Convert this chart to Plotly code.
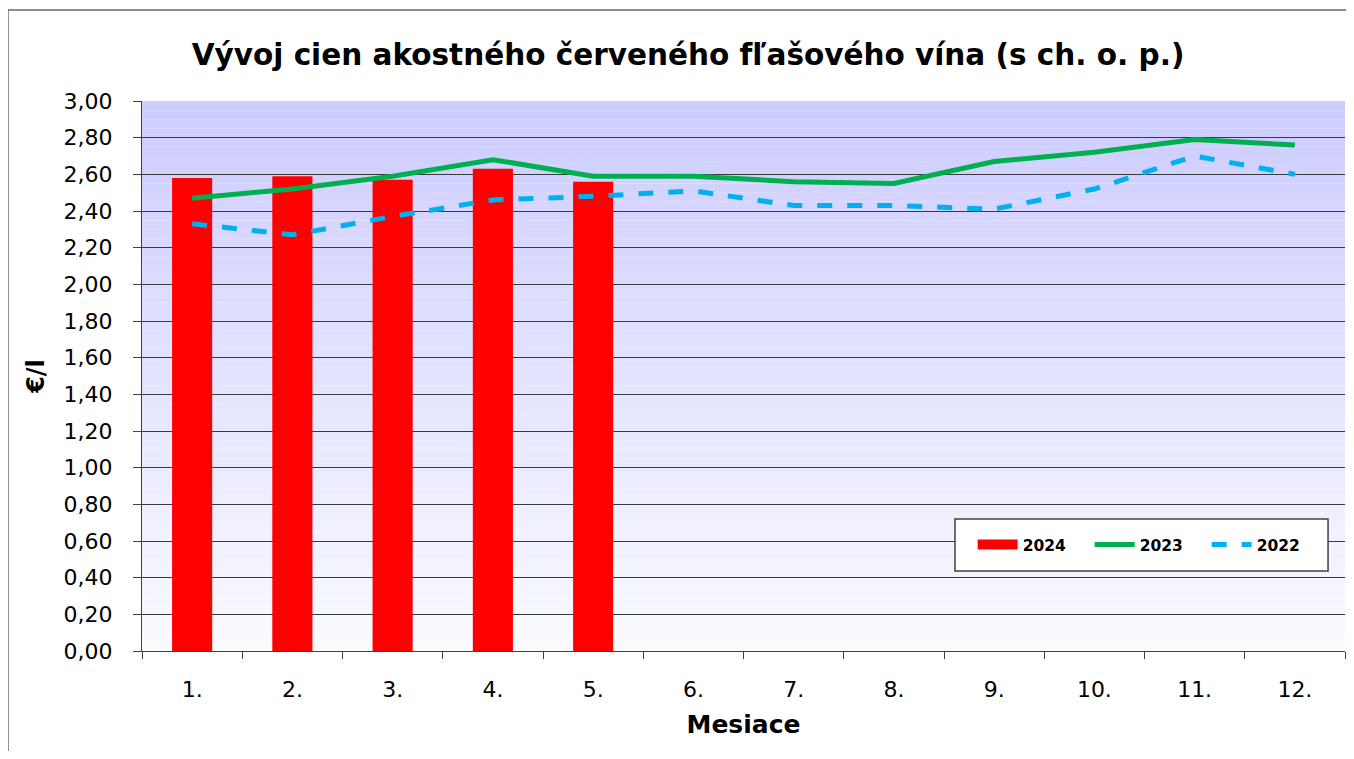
import plotly.graph_objects as go

months = ["1.", "2.", "3.", "4.", "5.", "6.", "7.", "8.", "9.", "10.", "11.", "12."]
v2024 = [2.58, 2.59, 2.57, 2.63, 2.56]
v2023 = [2.47, 2.52, 2.59, 2.68, 2.59, 2.59, 2.56, 2.55, 2.67, 2.72, 2.79, 2.76]
v2022 = [2.33, 2.27, 2.37, 2.46, 2.48, 2.51, 2.43, 2.43, 2.41, 2.52, 2.70, 2.60]
yticks = [round(i * 0.2, 2) for i in range(16)]

FONT = "DejaVu Sans"

fig = go.Figure()
fig.add_trace(go.Bar(x=months[:len(v2024)], y=v2024, name="2024", showlegend=False,
                     marker=dict(color="#FF0000", line=dict(width=0))))
# legend proxy for the bar series (wide red block like the original)
fig.add_trace(go.Scatter(x=[None], y=[None], name="2024", mode="lines",
                         line=dict(color="#FF0000", width=14)))
fig.add_trace(go.Scatter(x=months, y=v2023, name="2023", mode="lines",
                         line=dict(color="#00B050", width=5)))
fig.add_trace(go.Scatter(x=months, y=v2022, name="2022", mode="lines",
                         line=dict(color="#00B0F0", width=5, dash="dash")))

# gradient background of plot area
N = 60
top = (204, 204, 255)
bot = (250, 250, 255)
shapes = []
for i in range(N):
    t = i / (N - 1)
    c = tuple(round(top[k] + (bot[k] - top[k]) * t) for k in range(3))
    shapes.append(dict(type="rect", xref="x domain", yref="y domain",
                       x0=0, x1=1, y0=1 - (i + 1) / N, y1=1 - i / N,
                       fillcolor="rgb(%d,%d,%d)" % c, line=dict(width=0),
                       layer="below"))
# outer chart frame
shapes.append(dict(type="rect", xref="paper", yref="paper",
                   x0=-0.1114, x1=1.02, y0=-0.3, y1=1.1655,
                   line=dict(color="#6a6a6a", width=1.5), fillcolor="rgba(0,0,0,0)",
                   layer="above"))
# legend box
shapes.append(dict(type="rect", xref="paper", yref="paper",
                   x0=0.6758, x1=0.9859, y0=0.1455, y1=0.24,
                   line=dict(color="#404040", width=1.5), fillcolor="white",
                   layer="above"))

fig.update_layout(
    width=1338, height=743,
    margin=dict(l=134, r=1, t=93, b=100, autoexpand=False),
    paper_bgcolor="white",
    plot_bgcolor="white",
    separators=", ",
    shapes=shapes,
    bargap=0.6,
    title=dict(text="<b>Vývoj cien akostného červeného fľašového vína (s ch. o. p.)</b>",
               x=0.4539, xref="paper", xanchor="center", y=0.9367, yanchor="middle",
               font=dict(family=FONT, size=29.5, color="black")),
    font=dict(family=FONT, color="black"),
    legend=dict(orientation="h", x=0.6905, y=0.1927, xanchor="left", yanchor="middle",
                bgcolor="rgba(0,0,0,0)", borderwidth=0,
                font=dict(family=FONT, size=15.5, color="black", weight="bold"),
                itemwidth=40, entrywidth=62),
    xaxis=dict(
        title=dict(text="<b>Mesiace</b>", font=dict(family=FONT, size=25), standoff=14),
        tickfont=dict(family=FONT, size=22),
        showgrid=False, showline=True, linecolor="#404040", linewidth=1,
        ticks="outside", tickson="boundaries", ticklen=7, tickcolor="#404040",
        ticklabelstandoff=19,
        range=[-0.5, 11.5],
    ),
    yaxis=dict(
        title=dict(text="<b>€/l</b>", font=dict(family=FONT, size=24), standoff=12),
        tickfont=dict(family=FONT, size=22),
        range=[0, 3.0], tickvals=yticks, tickformat=".2f",
        showgrid=True, gridcolor="#3a3a3a", gridwidth=1,
        showline=True, linecolor="#404040", linewidth=1,
        ticks="outside", ticklen=8, tickcolor="#404040",
        ticklabelstandoff=16,
        zeroline=False,
    ),
)

fig.write_html("out.html")
